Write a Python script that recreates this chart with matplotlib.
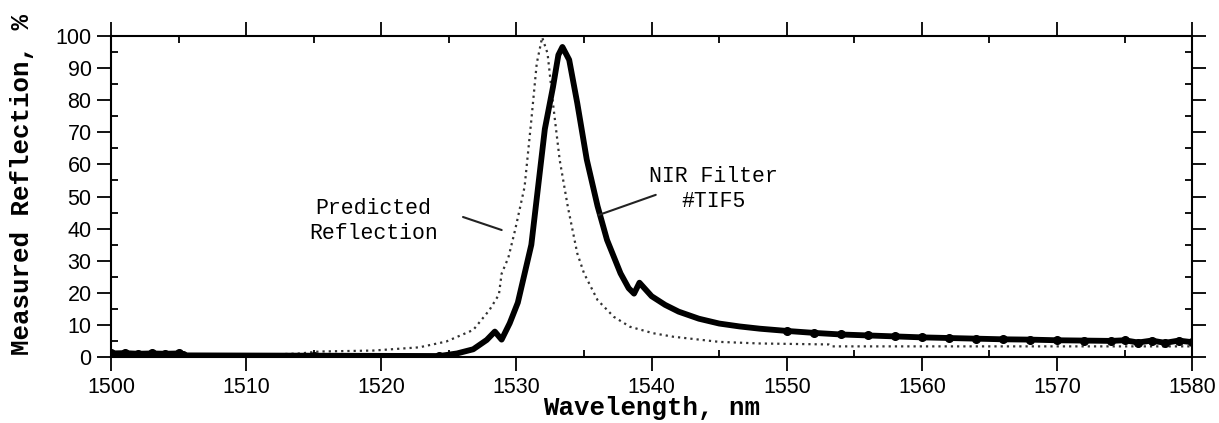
import matplotlib.pyplot as plt
from matplotlib.ticker import MultipleLocator

# measured reflection of the NIR filter (#TIF5)
wl_meas = [1500, 1501, 1502, 1503, 1504, 1505, 1505.3, 1515, 1524.3, 1525.6,
           1526.8, 1527.8, 1528.4, 1528.9, 1529.5, 1530.1, 1530.6, 1531.1,
           1531.6, 1532.1, 1532.7, 1533.1, 1533.4, 1533.9, 1534.5, 1535.2,
           1536.0, 1536.7, 1537.7, 1538.3, 1538.7, 1539.1, 1540.0, 1541.0,
           1542.0, 1543.5, 1545, 1546.5, 1548, 1550, 1552, 1554, 1556, 1558,
           1560, 1562, 1564, 1566, 1568, 1570, 1572, 1574, 1575, 1576, 1577,
           1578, 1579, 1580]
ref_meas = [1.2, 1.3, 1.1, 1.2, 1.1, 1.2, 0.6, 0.5, 0.4, 1.2,
            2.5, 5.4, 8.0, 5.5, 10.6, 17, 26, 35,
            53, 71, 84, 94, 96.5, 92.5, 79, 61.5,
            47, 36.5, 26.1, 21.5, 19.8, 23.2, 19.0, 16.3,
            14.2, 12.0, 10.5, 9.6, 8.9, 8.2, 7.6, 7.1, 6.8, 6.5,
            6.2, 6.0, 5.8, 5.6, 5.5, 5.3, 5.2, 5.1, 5.3, 4.6, 5.2,
            4.5, 5.2, 4.7]

# predicted reflection
wl_pred = [1500, 1510, 1514, 1515.4, 1519.4, 1522.8, 1524.8, 1526.8, 1527.4,
           1528.0, 1528.7, 1528.9, 1529.4, 1529.9, 1530.6, 1531.1, 1531.5,
           1531.9, 1532.3, 1532.7, 1533.2, 1533.8, 1534.5, 1535.0, 1536.0,
           1537.2, 1538.4, 1540.1, 1541.6, 1545, 1548, 1553.1, 1553.3, 1580]
ref_pred = [0.5, 0.6, 1.2, 1.8, 2.1, 3.1, 4.9, 8.5, 11.6,
            14.7, 19.5, 26, 31, 39.6, 53, 73.8, 91.4,
            99.5, 94.5, 79, 61.3, 46.8, 32.3, 26.1, 17.8,
            12.6, 9.5, 7.5, 6.4, 4.8, 4.3, 4.0, 3.4, 3.4]

mono = "Liberation Mono"
sans = "Liberation Sans"

fig = plt.figure(figsize=(12.19, 4.23), dpi=100)
ax = fig.add_axes([0.0911, 0.1553, 0.8869, 0.7603])

ax.plot(wl_pred, ref_pred, color="#333333", lw=1.6, ls=(0, (1, 1.8)))

# thick smooth line, dots only where the scan is noisy (flat parts)
noisy = [i for i, w in enumerate(wl_meas) if w <= 1524.3 or w >= 1550]
ax.plot(wl_meas, ref_meas, color="black", lw=4.2, solid_joinstyle="round",
        solid_capstyle="round")
ax.plot(wl_meas, ref_meas, color="black", lw=0, marker="o", ms=5.5,
        markevery=noisy)

ax.set_xlim(1500, 1580)
ax.set_ylim(0, 100)
ax.xaxis.set_major_locator(MultipleLocator(10))
ax.xaxis.set_minor_locator(MultipleLocator(5))
ax.yaxis.set_major_locator(MultipleLocator(10))
ax.yaxis.set_minor_locator(MultipleLocator(5))
ax.tick_params(which="major", direction="out", length=10, width=1.3,
               top=True, right=True, labelsize=15.5, pad=4)
ax.tick_params(which="minor", direction="in", length=5, width=1.3,
               top=True, right=True)
for lab in ax.get_xticklabels() + ax.get_yticklabels():
    lab.set_fontfamily(sans)
for sp in ax.spines.values():
    sp.set_linewidth(1.5)

ax.set_xlabel("Wavelength, nm", family=mono, weight="bold", fontsize=18.5,
              labelpad=-1)
fig.text(0.018, 0.565, "Measured Reflection, %", family=mono, weight="bold",
         fontsize=18.5, rotation=90, ha="center", va="center")

ax.text(1519.4, 42.4, "Predicted\nReflection", family=mono, fontsize=15.5,
        ha="center", va="center", linespacing=1.25)
ax.annotate("", xy=(1529.1, 39.3), xytext=(1525.85, 43.9),
            arrowprops=dict(arrowstyle="-", color="#222222", lw=1.5))
ax.text(1544.6, 52.3, "NIR Filter\n#TIF5", family=mono, fontsize=15.5,
        ha="center", va="center", linespacing=1.25)
ax.annotate("", xy=(1535.85, 43.9), xytext=(1540.5, 50.8),
            arrowprops=dict(arrowstyle="-", color="#222222", lw=1.5))

fig.savefig("out.png", dpi=100)
